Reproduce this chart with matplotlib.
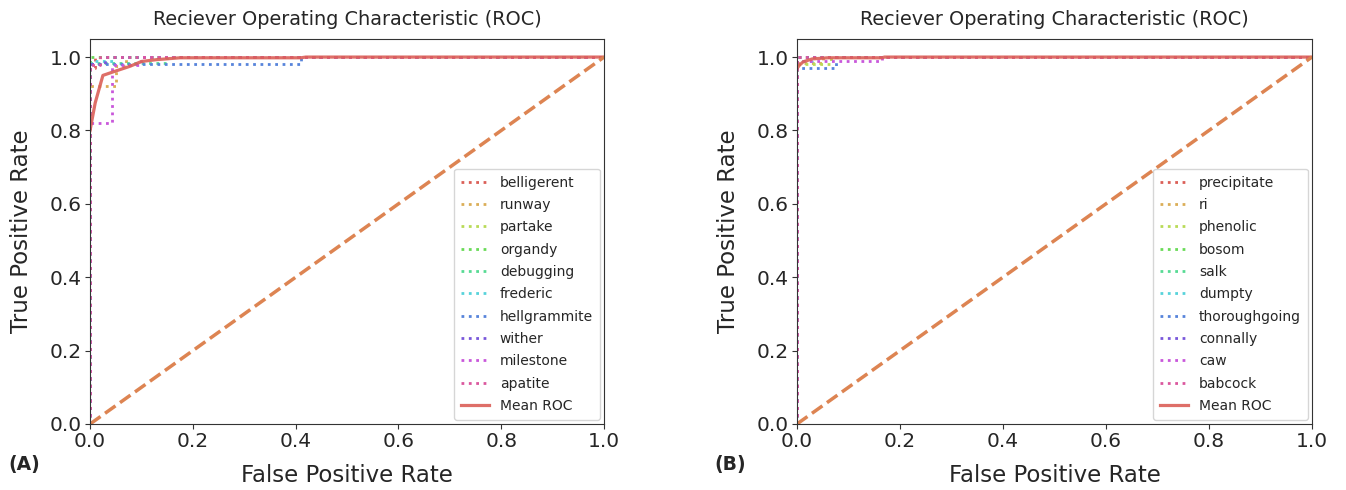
import matplotlib
matplotlib.use("Agg")
import matplotlib.pyplot as plt
import colorsys

# ---------------- data ----------------
title = "Reciever Operating Characteristic (ROC)"

names_a = ["belligerent", "runway", "partake", "organdy", "debugging",
           "frederic", "hellgrammite", "wither", "milestone", "apatite"]
fpr_a = [
    [0.0, 0.0, 0.01, 0.01, 1.0],
    [0.0, 0.0, 0.05, 0.05, 0.07, 0.07, 1.0],
    [0.0, 0.0, 0.02, 0.02, 1.0],
    [0.0, 0.0, 1.0],
    [0.0, 0.0, 0.15, 0.15, 1.0],
    [0.0, 0.0, 0.045, 0.045, 1.0],
    [0.0, 0.0, 0.41, 0.41, 1.0],
    [0.0, 0.0, 0.03, 0.03, 1.0],
    [0.0, 0.0, 0.043, 0.043, 0.1, 0.1, 1.0],
    [0.0, 0.0, 0.02, 0.02, 1.0],
]
tpr_a = [
    [0.0, 0.97, 0.97, 1.0, 1.0],
    [0.0, 0.92, 0.92, 0.975, 0.975, 1.0, 1.0],
    [0.0, 0.98, 0.98, 1.0, 1.0],
    [0.0, 1.0, 1.0],
    [0.0, 0.985, 0.985, 1.0, 1.0],
    [0.0, 0.988, 0.988, 1.0, 1.0],
    [0.0, 0.98, 0.98, 1.0, 1.0],
    [0.0, 0.98, 0.98, 1.0, 1.0],
    [0.0, 0.82, 0.82, 0.978, 0.978, 1.0, 1.0],
    [0.0, 0.978, 0.978, 1.0, 1.0],
]
mean_fpr_a = [0.0, 0.01, 0.025, 0.05, 0.078, 0.10, 0.13, 0.175, 0.2, 0.41, 0.42, 1.0]
mean_tpr_a = [0.80, 0.875, 0.95, 0.962, 0.975, 0.988, 0.993, 0.998, 0.998, 0.998, 1.0, 1.0]

names_b = ["precipitate", "ri", "phenolic", "bosom", "salk",
           "dumpty", "thoroughgoing", "connally", "caw", "babcock"]
fpr_b = [
    [0.0, 0.0, 1.0],
    [0.0, 0.0, 0.05, 0.05, 1.0],
    [0.0, 0.0, 0.066, 0.066, 1.0],
    [0.0, 0.0, 1.0],
    [0.0, 0.0, 0.02, 0.02, 1.0],
    [0.0, 0.0, 0.03, 0.03, 1.0],
    [0.0, 0.0, 0.075, 0.075, 1.0],
    [0.0, 0.0, 1.0],
    [0.0, 0.0, 0.165, 0.165, 1.0],
    [0.0, 0.0, 1.0],
]
tpr_b = [
    [0.0, 1.0, 1.0],
    [0.0, 0.985, 0.985, 1.0, 1.0],
    [0.0, 0.981, 0.981, 1.0, 1.0],
    [0.0, 1.0, 1.0],
    [0.0, 0.99, 0.99, 1.0, 1.0],
    [0.0, 0.99, 0.99, 1.0, 1.0],
    [0.0, 0.969, 0.969, 1.0, 1.0],
    [0.0, 1.0, 1.0],
    [0.0, 0.99, 0.99, 1.0, 1.0],
    [0.0, 1.0, 1.0],
]
mean_fpr_b = [0.0, 0.005, 0.012, 0.03, 0.06, 0.165, 0.17, 1.0]
mean_tpr_b = [0.969, 0.978, 0.987, 0.995, 0.998, 0.998, 1.0, 1.0]

panel_labels = ["(A)", "(B)"]


def hls_palette(n, l=0.6, s=0.65, h=0.01):
    cols = []
    for i in range(n):
        hue = (h + i / n) % 1.0
        cols.append(colorsys.hls_to_rgb(hue, l, s))
    return cols


colors = hls_palette(10)
mean_color = colors[0]
diag_color = "#dd8452"
text_color = "#262626"

plt.rcParams["text.color"] = text_color
plt.rcParams["axes.labelcolor"] = text_color
plt.rcParams["xtick.color"] = "#333333"
plt.rcParams["ytick.color"] = "#333333"
plt.rcParams["xtick.labelcolor"] = text_color
plt.rcParams["ytick.labelcolor"] = text_color

fig = plt.figure(figsize=(13.46, 4.90), dpi=100)
ax1 = fig.add_axes([0.0669, 0.1347, 0.3819, 0.7863])
ax2 = fig.add_axes([0.5921, 0.1347, 0.3826, 0.7863])

panels = [
    (ax1, names_a, fpr_a, tpr_a, mean_fpr_a, mean_tpr_a),
    (ax2, names_b, fpr_b, tpr_b, mean_fpr_b, mean_tpr_b),
]

for ax, names, fprs, tprs, mf, mt in panels:
    for name, f, t, c in zip(names, fprs, tprs, colors):
        ax.plot(f, t, linestyle=":", lw=2, color=c, label=name)
    ax.plot(mf, mt, color=mean_color, lw=2.3, alpha=0.9, label="Mean ROC")
    ax.plot([0, 1], [0, 1], linestyle="--", lw=2.5, color=diag_color)
    ax.set_xlim(0, 1)
    ax.set_ylim(0, 1.05)
    ax.set_xticks([0, 0.2, 0.4, 0.6, 0.8, 1.0])
    ax.set_yticks([0, 0.2, 0.4, 0.6, 0.8, 1.0])
    ax.tick_params(labelsize=14.5, pad=2.5)
    for s in ax.spines.values():
        s.set_color("#333333")
    ax.set_xlabel("False Positive Rate", fontsize=16.5, labelpad=9)
    ax.set_ylabel("True Positive Rate", fontsize=16.5, labelpad=12)
    ax.set_title(title, fontsize=13.9, pad=10)
    ax.legend(loc="lower right", fontsize=10, labelspacing=0.6,
              borderaxespad=0.3, borderpad=0.5)

fig.text(0.006, 0.04, panel_labels[0], fontsize=13.5, fontweight="bold")
fig.text(0.531, 0.04, panel_labels[1], fontsize=13.5, fontweight="bold")

fig.savefig("out.png", dpi=100)
